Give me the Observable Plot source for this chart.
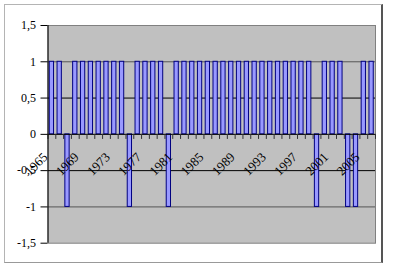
<!DOCTYPE html>
<html><head><meta charset="utf-8">
<script src="https://cdn.jsdelivr.net/npm/d3@7"></script>
<script src="https://cdn.jsdelivr.net/npm/@observablehq/plot@0.6"></script>
<style>
body{margin:0;background:#fff;}
#wrap{position:relative;width:400px;height:268px;}
#wrap svg{position:absolute;left:0;top:0;}
#border{position:absolute;left:4px;top:4px;width:379px;height:259px;box-sizing:border-box;border:1px solid #b4b4b4;border-right:2px solid #555;border-bottom:1px solid #999;pointer-events:none;}
</style></head><body>
<div id="wrap"></div>
<script>
const years = [1965,1966,1967,1968,1969,1970,1971,1972,1973,1974,1975,1976,1977,1978,1979,1980,1981,1982,1983,1984,1985,1986,1987,1988,1989,1990,1991,1992,1993,1994,1995,1996,1997,1998,1999,2000,2001,2002,2003,2004,2005,2006];
const values = [1,1,-1,1,1,1,1,1,1,1,-1,1,1,1,1,-1,1,1,1,1,1,1,1,1,1,1,1,1,1,1,1,1,1,1,-1,1,1,1,-1,-1,1,1];
const yTicks = [-1.5,-1,-0.5,0,0.5,1,1.5];
const xLabels = [1965,1969,1973,1977,1981,1985,1989,1993,1997,2001,2005];
const gridLines = [-1,-0.5,0.5,1];

const data = years.map((y,i)=>({year:y, value:values[i]}));
const W = 400, H = 268, mL = 47.5, mR = 25, mT = 25, mB = 25.3;
const step = (W - mL - mR) / years.length;
const fmt = d => String(d).replace(".", ",");

const chart = Plot.plot({
  width: W, height: H,
  marginLeft: mL, marginRight: mR, marginTop: mT, marginBottom: mB,
  style: {fontFamily: "Liberation Serif", fontSize: "12px", color: "#000", background: "transparent"},
  x: {type: "band", domain: years, paddingInner: 0.45, paddingOuter: 0.225, axis: null},
  y: {domain: [-1.5, 1.5], axis: null},
  marks: [
    Plot.frame({fill: "#c0c0c0", stroke: "#808080"}),
    Plot.ruleY(gridLines, {stroke: d => Math.abs(d) === 0.5 ? "#000" : "#555"}),
    Plot.barY(data, {x: "year", y: "value", fill: "#9999ff", stroke: "#000080", strokeWidth: 1}),
    Plot.ruleY([0], {stroke: "#000"}),
    Plot.ruleX(years, {x: d => d, y1: 0, y2: -0.07, dx: -step/2, stroke: "#333"}),
    Plot.ruleX([years[years.length-1]], {x: d => d, y1: 0, y2: -0.07, dx: step/2, stroke: "#333"}),
    Plot.ruleX([years[0]], {x: d => d, y1: -1.5, y2: 1.5, dx: -step/2, stroke: "#000"}),
    Plot.axisY({ticks: yTicks, tickSize: 7, tickPadding: 5, tickFormat: fmt, label: null, fontSize: 12, fontFamily: "Liberation Serif"}),
    Plot.text(xLabels, {x: d => d, y: 0, text: d => String(d), rotate: -45, textAnchor: "end", lineAnchor: "top", dx: -10, dy: 17, fontSize: 13, fontFamily: "Liberation Serif", fill: "#000"})
  ]
});
const wrap = document.getElementById("wrap");
wrap.appendChild(chart);
const b = document.createElement("div"); b.id = "border"; wrap.appendChild(b);
</script>
</body></html>
